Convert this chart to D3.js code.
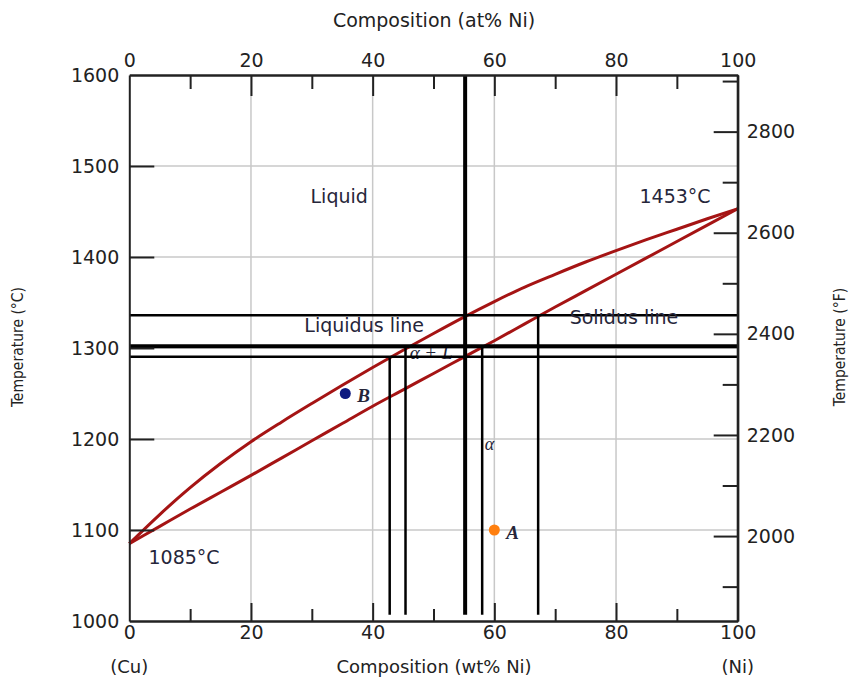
<!DOCTYPE html>
<html><head><meta charset="utf-8">
<script src="https://cdn.jsdelivr.net/npm/d3@7"></script>
<style>
html,body{margin:0;padding:0;background:#fff;}
svg{display:block;}
</style></head>
<body>
<svg id="chart" width="849" height="679"></svg>
<script>
// ---- data ----
const liquidusComp = [0, 5, 10, 15, 20, 25, 30, 35, 40, 45, 50, 55, 60, 65, 70, 75, 80, 85, 90, 95, 100];
const liquidusTemp = [1085, 1117, 1146.5, 1173, 1197, 1218.5, 1239, 1259, 1278.5, 1297.5, 1316, 1334, 1351, 1367, 1381, 1394.5, 1407, 1419, 1430.5, 1442, 1453];
const solidusComp = [0, 5, 10, 15, 20, 25, 30, 35, 40, 45, 50, 55, 60, 65, 70, 75, 80, 85, 90, 95, 100];
const solidusTemp = [1085, 1104, 1123, 1141.5, 1160, 1179, 1198, 1217, 1236, 1254, 1272, 1290, 1308, 1326.5, 1345, 1363, 1381, 1399, 1417, 1435, 1453];
const tieTemps = [1336, 1302, 1290.5];              // horizontal lines (°C)
const vertComps = [55.2, 42.8, 45.4, 58, 67.2];       // vertical lines (wt% Ni)
const vertTop = [1600, 1290.5, 1302, 1302, 1336];     // where each vertical starts (°C)
const vertBottom = 1007;
const pointNames = ["B", "A"];
const pointComp = [35.5, 60];
const pointTemp = [1250, 1100];
const xTicksMajor = [0, 20, 40, 60, 80, 100];
const xTicksMinor = [10, 30, 50, 70, 90];
const yTicksC = [1000, 1100, 1200, 1300, 1400, 1500, 1600];
const yTicksFMajor = [2000, 2200, 2400, 2600, 2800];
const yTicksFMinor = [1900, 2100, 2300, 2500, 2700, 2900];
const regionLabels = ["Liquid", "1453°C", "Liquidus line", "Solidus line", "1085°C"];
const regionComp = [34.5, 89.7, 38.6, 81.3, 9];
const regionTemp = [1467, 1467, 1325, 1334, 1070];

// ---- layout ----
const svg = d3.select("#chart");
const x = d3.scaleLinear([0, 100], [129.3, 737.7]);
const y = d3.scaleLinear([1000, 1600], [621, 75]);
const yF = d3.scaleLinear([1000 * 9 / 5 + 32, 1600 * 9 / 5 + 32], [621, 75]);
const tickFont = "DejaVu Sans, sans-serif";
const ink = "#222";
const fmt = d3.format("d");

// gridlines
const g = svg.append("g");
g.selectAll(".vg").data(xTicksMajor.slice(1, -1)).join("line")
  .attr("x1", d => x(d)).attr("x2", d => x(d)).attr("y1", y(1000)).attr("y2", y(1600))
  .attr("stroke", "#c8c8c8").attr("stroke-width", 1.5);
g.selectAll(".hg").data(yTicksC.slice(1, -1)).join("line")
  .attr("y1", d => y(d)).attr("y2", d => y(d)).attr("x1", x(0)).attr("x2", x(100))
  .attr("stroke", "#c8c8c8").attr("stroke-width", 1.5);

// phase labels (drawn under the tie lines, as in the reference)
const serif = "Liberation Serif, DejaVu Serif, serif";
const tt = (txt, px, py, opts = {}) => svg.append("text").text(txt)
  .attr("x", px).attr("y", py).attr("text-anchor", opts.anchor || "middle")
  .attr("dominant-baseline", "central").attr("fill", opts.fill || ink)
  .style("font-family", opts.font || tickFont).style("font-size", (opts.size || 19) + "px")
  .style("font-style", opts.style || "normal").style("font-weight", opts.weight || "normal")
  .attr("transform", opts.rot ? `rotate(-90,${px},${py})` : null);
tt("α + L", x(49.6), y(1295), { size: 19, style: "italic", font: serif, fill: "#26263a" });
tt("α", x(59.2), y(1195), { size: 18, style: "italic", font: serif, fill: "#26263a" });

// curves
const line = d3.line().x(d => x(d[0])).y(d => y(d[1])).curve(d3.curveMonotoneX);
const liq = liquidusComp.map((c, i) => [c, liquidusTemp[i]]);
const sol = solidusComp.map((c, i) => [c, solidusTemp[i]]);
[liq, sol].forEach(d => {
  svg.append("path").attr("d", line(d)).attr("fill", "none")
    .attr("stroke", "#a51414").attr("stroke-width", 3);
});

// tie lines
svg.selectAll(".hl").data(tieTemps).join("line")
  .attr("x1", x(0)).attr("x2", x(100)).attr("y1", d => y(d)).attr("y2", d => y(d))
  .attr("stroke", "#000").attr("stroke-width", (d, i) => i === 1 ? 4 : 2.5);
svg.selectAll(".vl").data(vertComps).join("line")
  .attr("x1", d => x(d)).attr("x2", d => x(d))
  .attr("y1", (d, i) => y(vertTop[i])).attr("y2", y(vertBottom))
  .attr("stroke", "#000").attr("stroke-width", (d, i) => i === 0 ? 4 : 2.5);

// axes
function styleAxis(sel) {
  sel.select(".domain").attr("stroke", ink).attr("stroke-width", 2);
  sel.selectAll(".tick line").attr("stroke", ink).attr("stroke-width", 2);
  sel.selectAll("text").attr("fill", ink).style("font-family", tickFont).style("font-size", "19px");
}
// bottom
svg.append("g").attr("transform", `translate(0,${y(1000)})`)
  .call(d3.axisBottom(x).tickValues(xTicksMajor).tickFormat(fmt).tickSize(-18).tickSizeOuter(0).tickPadding(5))
  .call(styleAxis).call(s => s.selectAll(".tick").filter(d => d === 0 || d === 100).select("line").remove());
svg.append("g").attr("transform", `translate(0,${y(1000)})`)
  .call(d3.axisBottom(x).tickValues(xTicksMinor).tickSize(-12).tickSizeOuter(0).tickFormat(""))
  .call(styleAxis);
// top
svg.append("g").attr("transform", `translate(0,${y(1600)})`)
  .call(d3.axisTop(x).tickValues(xTicksMajor).tickFormat(fmt).tickSize(-21).tickSizeOuter(0).tickPadding(8))
  .call(styleAxis).call(s => s.selectAll(".tick").filter(d => d === 0 || d === 100).select("line").remove());
svg.append("g").attr("transform", `translate(0,${y(1600)})`)
  .call(d3.axisTop(x).tickValues(xTicksMinor).tickSize(-14).tickSizeOuter(0).tickFormat(""))
  .call(styleAxis);
// left
svg.append("g").attr("transform", `translate(${x(0)},0)`)
  .call(d3.axisLeft(y).tickValues(yTicksC).tickFormat(fmt).tickSize(-25).tickSizeOuter(0).tickPadding(10))
  .call(styleAxis).call(s => s.selectAll(".tick").filter(d => d === 1000 || d === 1600).select("line").remove());
// right
svg.append("g").attr("transform", `translate(${x(100)},0)`)
  .call(d3.axisRight(yF).tickValues(yTicksFMajor).tickFormat(fmt).tickSize(-24).tickSizeOuter(0).tickPadding(9))
  .call(styleAxis);
svg.append("g").attr("transform", `translate(${x(100)},0)`)
  .call(d3.axisRight(yF).tickValues(yTicksFMinor).tickSize(-15).tickSizeOuter(0).tickFormat(""))
  .call(styleAxis);
svg.append("line").attr("x1", x(100)).attr("x2", x(100)).attr("y1", y(1000)).attr("y2", y(1600))
  .attr("stroke", ink).attr("stroke-width", 2);

// titles
tt("Composition (at% Ni)", 434, 20);
tt("Composition (wt% Ni)", 434, 666, { size: 18 });
tt("(Cu)", x(0), 666, { size: 18 });
tt("(Ni)", x(100), 666, { size: 18 });
tt("Temperature (°C)", 18, 347, { rot: true, size: 15.5, font: "DejaVu Sans Condensed, DejaVu Sans, sans-serif" });
tt("Temperature (°F)", 840, 347, { rot: true, size: 15.5, font: "DejaVu Sans Condensed, DejaVu Sans, sans-serif" });

// region labels
regionLabels.forEach((t, i) => tt(t, x(regionComp[i]), y(regionTemp[i]), { size: 19, fill: "#26263a" }));

// points
const pColors = ["#0d1a80", "#ff7f0e"];
svg.selectAll(".pt").data(pointComp).join("circle")
  .attr("cx", d => x(d)).attr("cy", (d, i) => y(pointTemp[i])).attr("r", 5.5)
  .attr("fill", (d, i) => pColors[i]);
pointNames.forEach((n, i) => tt(n, x(pointComp[i]) + 12, y(pointTemp[i]) + 2,
  { anchor: "start", size: 19, style: "italic", weight: "bold", font: serif, fill: "#26263a" }));
</script>
</body></html>
